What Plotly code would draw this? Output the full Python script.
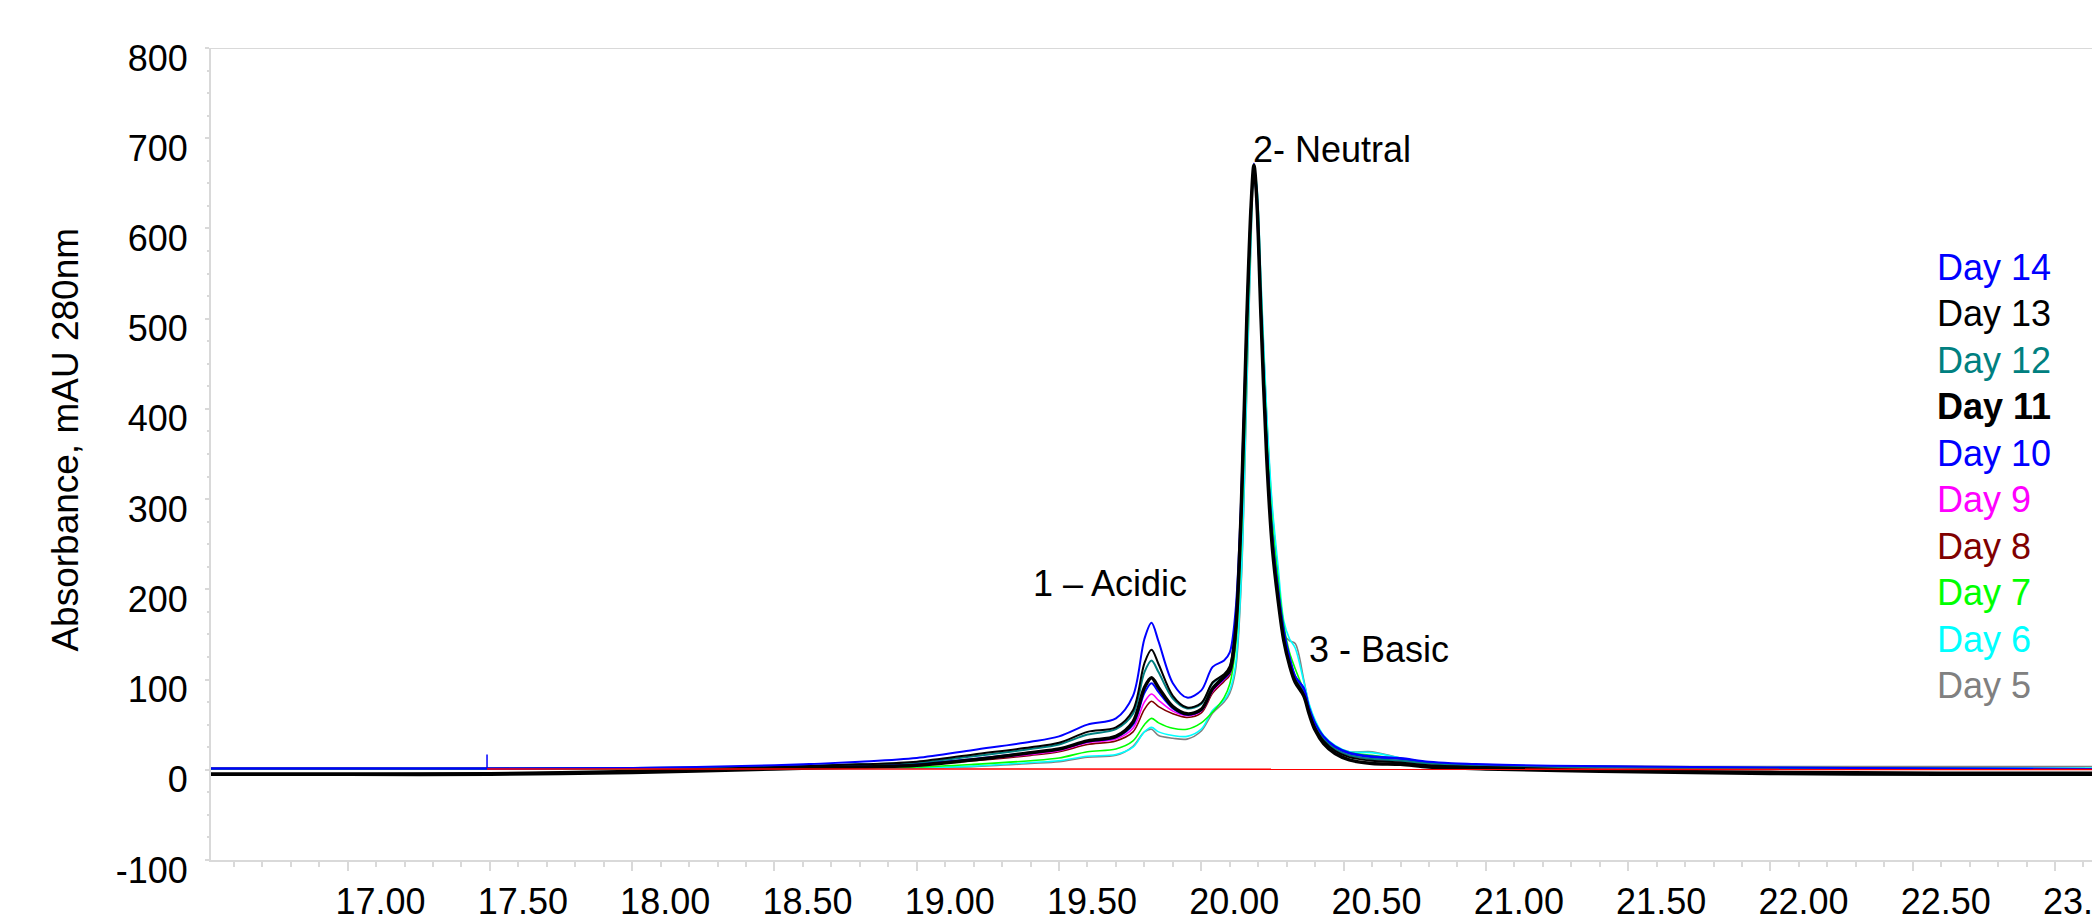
import plotly.graph_objects as go

# Retention time grid (min)
rt = [16.52, 17.0, 17.5, 18.0, 18.5, 18.8, 19.0, 19.2, 19.4, 19.5, 19.6, 19.7, 19.76, 19.8, 19.825,
      19.85, 19.9, 19.95, 20.0, 20.04, 20.08, 20.1, 20.12, 20.14, 20.16, 20.175, 20.185, 20.195,
      20.21, 20.23, 20.25, 20.27, 20.29, 20.31, 20.33, 20.36, 20.38, 20.4, 20.43, 20.47, 20.52,
      20.6, 20.7, 20.8, 21.0, 21.4, 22.0, 22.6, 23.13]

day14 = [1.5, 1.5, 1.5, 2, 5, 9, 13, 22, 31, 37, 50, 57, 82, 145, 163,
         142, 96, 80, 88, 114, 121, 130, 175, 300, 505, 622, 671, 625,
         505, 360, 258, 200, 155, 125, 104, 90, 68, 52, 37, 26, 19,
         15, 13, 9, 6, 4, 2.5, 1.5, 1]
day13 = [-4, -4, -3.5, -1, 3, 6, 9, 17, 25, 30, 42, 47, 66, 118, 133,
         117, 82, 69, 74, 97, 106, 115, 160, 290, 500, 625, 668, 630,
         500, 350, 250, 192, 148, 120, 100, 84, 63, 47, 32, 21, 14,
         10, 8, 5, 3, 0, -2, -3, -3]
day12 = [1.5, 1.5, 1.5, 2, 3.5, 6, 8, 15, 23, 28, 39, 45, 62, 108, 121,
         108, 79, 68, 73, 96, 105, 113, 155, 285, 495, 620, 667, 632,
         505, 355, 252, 195, 150, 122, 101, 86, 65, 49, 34, 23, 16,
         12, 10, 7, 4, 2.5, 1.5, 1, 1]
day11 = [-5, -5, -5, -3, 1, 3, 5, 11, 19, 23, 32, 37, 53, 91, 102,
         91, 70, 62, 67, 90, 103, 110, 152, 285, 500, 625, 670, 632,
         500, 345, 245, 188, 143, 116, 97, 82, 61, 44, 29, 18, 11,
         7, 6, 3, 1, -1.5, -4, -5, -5]
day10 = [1.5, 1.5, 1.5, 2, 3, 5, 7, 12, 19, 23, 31, 36, 50, 85, 96,
         86, 68, 61, 66, 89, 101, 108, 150, 280, 495, 625, 672, 638,
         510, 358, 255, 198, 152, 124, 103, 91, 66, 50, 35, 25, 18,
         14, 12, 8, 5, 3.5, 2, 1.5, 1]
day9 = [1.5, 1.5, 1.5, 2, 2.5, 4, 6, 11, 17, 21, 30, 34, 46, 75, 84,
        77, 65, 60, 65, 87, 100, 107, 148, 278, 495, 625, 670, 636,
        505, 355, 252, 195, 150, 122, 101, 86, 65, 49, 34, 23, 16,
        12, 10, 7, 4, 2.5, 1.5, 1, 1]
day8 = [1.5, 1.5, 1.5, 2, 2.5, 3.5, 5, 10, 16, 20, 28, 32, 42, 67, 76,
        70, 62, 58, 63, 85, 98, 105, 145, 275, 492, 624, 669, 636,
        505, 355, 252, 195, 150, 122, 101, 86, 65, 49, 34, 23, 16,
        12, 10, 7, 4, 2.5, 1.5, 1, 1]
day7 = [1, 1, 1, 1, 1.5, 2.5, 3, 6, 10, 13, 20, 23, 32, 50, 57,
        52, 46, 45, 52, 64, 80, 95, 135, 255, 470, 615, 668, 640,
        520, 370, 270, 210, 160, 130, 112, 88, 68, 52, 37, 26, 19,
        16, 12, 8, 5, 3.5, 2, 1.5, 1]
day6 = [1, 1, 1, 1, 1, 1.5, 2, 4, 8, 10, 15, 17, 25, 42, 47,
        42, 38, 37, 45, 66, 77, 88, 115, 210, 430, 595, 665, 648,
        540, 395, 290, 225, 165, 145, 135, 98, 72, 55, 38, 27, 20,
        19, 13, 8, 5, 3.5, 2.5, 2, 2]
day5 = [1, 1, 1, 1, 1, 1.5, 2, 3.5, 7, 9, 14, 16, 26, 42, 45,
        38, 35, 34, 43, 63, 75, 85, 110, 205, 420, 590, 662, 645,
        535, 390, 285, 215, 150, 143, 140, 100, 70, 53, 37, 26, 20,
        20, 13, 8, 5, 4, 3.5, 3.5, 3.5]

# Integration baseline and injection spike
baseline_x = [17.49, 23.13]
baseline_y = [1.0, 0.3]
spike_x = [17.49, 17.49]
spike_y = [1.5, 17]

series_names = ["Day 5", "Day 6", "Day 7", "Day 8", "Day 9", "Day 10", "Day 12", "Day 13", "Day 14", "Day 11"]
series_data = [day5, day6, day7, day8, day9, day10, day12, day13, day14, day11]
series_colors = ["#808080", "#00FFFF", "#00FF00", "#800000", "#FF00FF", "#0000FF", "#008080", "#000000", "#0000FF", "#000000"]
series_widths = [1.6, 1.6, 1.6, 1.6, 1.6, 2, 2, 2, 2, 3.5]

legend_labels = ["Day 14", "Day 13", "Day 12", "<b>Day 11</b>", "Day 10", "Day 9", "Day 8", "Day 7", "Day 6", "Day 5"]
legend_colors = ["#0000FF", "#000000", "#008080", "#000000", "#0000FF", "#FF00FF", "#800000", "#00FF00", "#00FFFF", "#808080"]

peak_labels = ["2- Neutral", "1 \u2013 Acidic", "3 - Basic"]
peak_x = [20.174, 19.40, 20.37]
peak_y = [688, 207, 133]

y_tick_vals = [-100, 0, 100, 200, 300, 400, 500, 600, 700, 800]
y_tick_text = ["-100", "0", "100", "200", "300", "400", "500", "600", "700", "800"]

FONT = "Arial, Liberation Sans, sans-serif"

fig = go.Figure()
for name, ys, col, w in zip(series_names, series_data, series_colors, series_widths):
    fig.add_trace(go.Scatter(x=rt, y=ys, mode="lines", name=name,
                             line=dict(color=col, width=w, shape="spline", smoothing=0.9),
                             showlegend=False))
fig.add_trace(go.Scatter(x=spike_x, y=spike_y, mode="lines", line=dict(color="#0000FF", width=1.5),
                         showlegend=False))
fig.add_trace(go.Scatter(x=baseline_x, y=baseline_y, mode="lines", line=dict(color="#FF0000", width=1.5),
                         showlegend=False))

annotations = []
for i, (lab, col) in enumerate(zip(legend_labels, legend_colors)):
    annotations.append(dict(x=22.58, y=556.7 - i * 51.5, xref="x", yref="y", text=lab,
                            showarrow=False, xanchor="left", yanchor="middle",
                            font=dict(family=FONT, size=36, color=col)))
for lab, px, py in zip(peak_labels, peak_x, peak_y):
    annotations.append(dict(x=px, y=py, xref="x", yref="y", text=lab, showarrow=False,
                            xanchor="left", yanchor="middle",
                            font=dict(family=FONT, size=36, color="#000000")))
annotations.append(dict(x=-0.0775, y=0.518, xref="paper", yref="paper",
                        text="Absorbance, mAU 280nm", textangle=-90, showarrow=False,
                        xanchor="center", yanchor="middle",
                        font=dict(family=FONT, size=37, color="#000000")))

axis_grey = "#d9d9d9"
fig.update_layout(
    width=2092, height=915,
    margin=dict(l=211, r=0, t=48, b=55, autoexpand=False),
    paper_bgcolor="white", plot_bgcolor="white",
    annotations=annotations,
    shapes=[dict(type="line", xref="paper", yref="y", x0=0, x1=1, y0=800, y1=800,
                 line=dict(color=axis_grey, width=2))],
    xaxis=dict(range=[16.52, 23.13], tick0=17, dtick=0.5, tickformat=".2f",
               ticks="outside", ticklen=9, tickwidth=2, tickcolor=axis_grey,
               showline=True, linecolor=axis_grey, linewidth=2,
               showgrid=False, zeroline=False, automargin=False,
               tickfont=dict(family=FONT, size=36, color="#000000"),
               ticklabelshift=33, ticklabelstandoff=0, ticklabeloverflow="allow",
               minor=dict(dtick=0.1, ticks="outside", ticklen=5, tickwidth=1.5, tickcolor=axis_grey)),
    yaxis=dict(range=[-100, 800], tickmode="array", tickvals=y_tick_vals, ticktext=y_tick_text,
               ticks="outside", ticklen=4, tickwidth=2,
               tickcolor=axis_grey, showline=True, linecolor=axis_grey, linewidth=2,
               showgrid=False, zeroline=False, automargin=False,
               tickfont=dict(family=FONT, size=36, color="#000000"),
               ticklabelshift=10, ticklabelstandoff=10,
               minor=dict(dtick=25, ticks="outside", ticklen=2, tickwidth=1.5, tickcolor=axis_grey)),
)

fig.write_html("out.html", config={"displayModeBar": False},
               post_script="document.body.style.margin='0px';document.body.style.overflow='hidden';")
